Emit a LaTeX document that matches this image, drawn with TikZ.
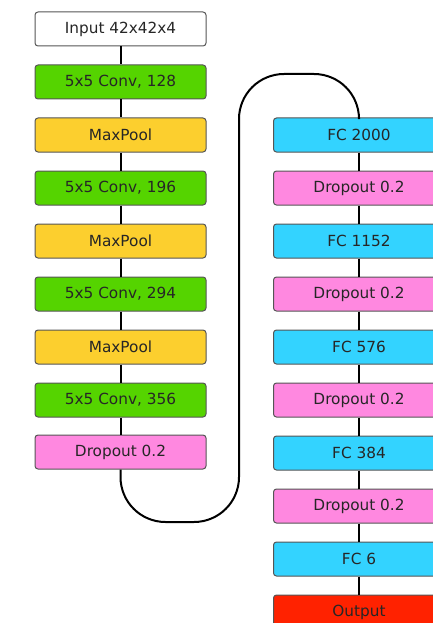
\documentclass[tikz,border=0pt]{standalone}
\usepackage{fontspec}
\setmainfont{DejaVu Sans}
\definecolor{cInput}{HTML}{FFFFFF}
\definecolor{cConv}{HTML}{55D400}
\definecolor{cPool}{HTML}{FCCF2E}
\definecolor{cDrop}{HTML}{FF88E0}
\definecolor{cFC}{HTML}{33D3FF}
\definecolor{cOut}{HTML}{FF2200}
\definecolor{cEdge}{HTML}{555555}
\tikzset{
  layer/.style={draw=cEdge, line width=1pt, rounded corners=3pt,
    minimum width=171pt, minimum height=34pt, inner sep=0pt,
    font=\fontsize{15.3}{17}\selectfont, text=black!85},
  link/.style={line width=2pt, draw=black}
}
\begin{document}
\begin{tikzpicture}[x=1pt, y=-1pt]
\useasboundingbox (0,0) rectangle (433,623);
\clip (0,0) rectangle (433,623);
% turning points of the link that joins the two columns
\coordinate (lb) at (120.5,522);
\coordinate (lr) at (239,522);
\coordinate (tl) at (239,74);
\coordinate (tr) at (359,74);
% left column
\node[layer, fill=cInput] (in) at (120.5,29) {Input 42x42x4};
\node[layer, fill=cConv]  (c1) at (120.5,82) {5x5 Conv, 128};
\node[layer, fill=cPool]  (p1) at (120.5,135) {MaxPool};
\node[layer, fill=cConv]  (c2) at (120.5,188) {5x5 Conv, 196};
\node[layer, fill=cPool]  (p2) at (120.5,241) {MaxPool};
\node[layer, fill=cConv]  (c3) at (120.5,294) {5x5 Conv, 294};
\node[layer, fill=cPool]  (p3) at (120.5,347) {MaxPool};
\node[layer, fill=cConv]  (c4) at (120.5,400) {5x5 Conv, 356};
\node[layer, fill=cDrop]  (d0) at (120.5,452) {Dropout 0.2};
% right column
\node[layer, fill=cFC]   (f1) at (359,135) {FC 2000};
\node[layer, fill=cDrop] (d1) at (359,188) {Dropout 0.2};
\node[layer, fill=cFC]   (f2) at (359,241) {FC 1152};
\node[layer, fill=cDrop] (d2) at (359,294) {Dropout 0.2};
\node[layer, fill=cFC]   (f3) at (359,347) {FC 576};
\node[layer, fill=cDrop] (d3) at (359,400) {Dropout 0.2};
\node[layer, fill=cFC]   (f4) at (359,453) {FC 384};
\node[layer, fill=cDrop] (d4) at (359,506) {Dropout 0.2};
\node[layer, fill=cFC]   (f5) at (359,559) {FC 6};
\node[layer, fill=cOut]  (out) at (359,612) {Output};
% links
\draw[link] (in) -- (c1);
\draw[link] (c1) -- (p1);
\draw[link] (p1) -- (c2);
\draw[link] (c2) -- (p2);
\draw[link] (p2) -- (c3);
\draw[link] (c3) -- (p3);
\draw[link] (p3) -- (c4);
\draw[link] (c4) -- (d0);
\draw[link, rounded corners=45pt] (d0.south) -- (lb) -- (lr) -- (tl) -- (tr) -- (f1.north);
\draw[link] (f1) -- (d1);
\draw[link] (d1) -- (f2);
\draw[link] (f2) -- (d2);
\draw[link] (d2) -- (f3);
\draw[link] (f3) -- (d3);
\draw[link] (d3) -- (f4);
\draw[link] (f4) -- (d4);
\draw[link] (d4) -- (f5);
\draw[link] (f5) -- (out);
\end{tikzpicture}
\end{document}
